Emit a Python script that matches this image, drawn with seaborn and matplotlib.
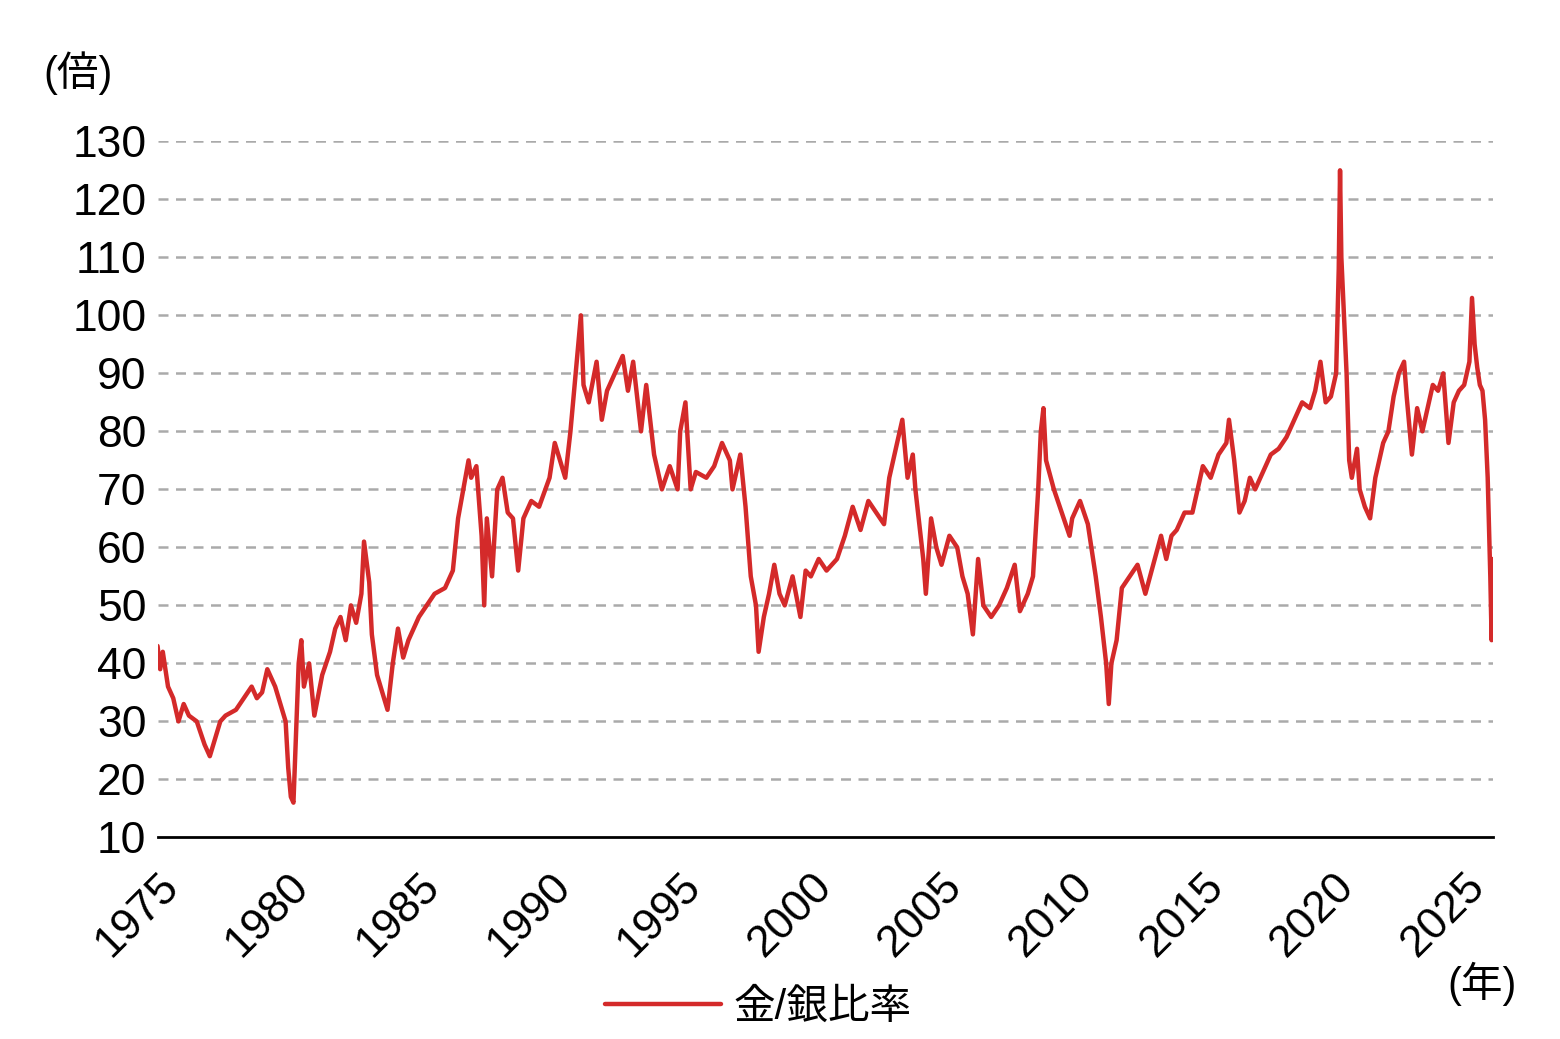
import numpy as np
import pandas as pd
import matplotlib
matplotlib.use("Agg")
import matplotlib.pyplot as plt
import seaborn as sns

# Gold/silver ratio (year, ratio)
years = [1975.0, 1975.1, 1975.2, 1975.4, 1975.6, 1975.8, 1976.0, 1976.2, 1976.5, 1976.8,
         1977.0, 1977.2, 1977.4, 1977.6, 1978.0, 1978.3, 1978.6, 1978.8, 1979.0, 1979.2,
         1979.5, 1979.7, 1979.9, 1980.0, 1980.1, 1980.2, 1980.3, 1980.4, 1980.5, 1980.6,
         1980.8, 1981.0, 1981.3, 1981.6, 1981.8, 1982.0, 1982.2, 1982.4, 1982.6, 1982.8,
         1982.9, 1983.1, 1983.2, 1983.4, 1983.6, 1983.8, 1984.0, 1984.2, 1984.4, 1984.6,
         1984.8, 1985.0, 1985.3, 1985.6, 1986.0, 1986.3, 1986.5, 1986.7, 1986.9, 1987.0,
         1987.2, 1987.4, 1987.5, 1987.6, 1987.8, 1988.0, 1988.2, 1988.4, 1988.6, 1988.8,
         1989.0, 1989.3, 1989.6, 1990.0, 1990.2, 1990.4, 1990.6, 1990.8, 1991.0, 1991.2,
         1991.3, 1991.5, 1991.8, 1992.0, 1992.2, 1992.5, 1992.8, 1993.0, 1993.2, 1993.5,
         1993.7, 1994.0, 1994.3, 1994.6, 1994.9, 1995.0, 1995.2, 1995.4, 1995.6, 1996.0,
         1996.3, 1996.6, 1996.9, 1997.0, 1997.3, 1997.5, 1997.7, 1997.9, 1998.0, 1998.2,
         1998.4, 1998.6, 1998.8, 1999.0, 1999.3, 1999.6, 1999.8, 2000.0, 2000.3, 2000.6,
         2001.0, 2001.3, 2001.6, 2001.9, 2002.2, 2002.5, 2002.8, 2003.0, 2003.3, 2003.5,
         2003.7, 2003.9, 2004.0, 2004.3, 2004.4, 2004.6, 2004.8, 2005.0, 2005.3, 2005.6,
         2005.8, 2006.0, 2006.2, 2006.4, 2006.6, 2006.9, 2007.2, 2007.5, 2007.8, 2008.0,
         2008.3, 2008.5, 2008.7, 2008.8, 2008.9, 2009.0, 2009.3, 2009.6, 2009.9, 2010.0,
         2010.3, 2010.6, 2010.9, 2011.1, 2011.3, 2011.4, 2011.5, 2011.7, 2011.9, 2012.2,
         2012.5, 2012.8, 2013.1, 2013.4, 2013.6, 2013.8, 2014.0, 2014.3, 2014.6, 2014.9,
         2015.0, 2015.3, 2015.6, 2015.9, 2016.0, 2016.2, 2016.4, 2016.6, 2016.8, 2017.0,
         2017.3, 2017.6, 2017.9, 2018.2, 2018.5, 2018.8, 2019.1, 2019.3, 2019.5, 2019.7,
         2019.9, 2020.1, 2020.2, 2020.25, 2020.3, 2020.4, 2020.5, 2020.6, 2020.7, 2020.9,
         2021.0, 2021.2, 2021.4, 2021.6, 2021.9, 2022.1, 2022.3, 2022.5, 2022.7, 2022.8,
         2023.0, 2023.2, 2023.4, 2023.6, 2023.8, 2024.0, 2024.2, 2024.4, 2024.6, 2024.8,
         2025.0, 2025.2, 2025.3, 2025.4, 2025.5, 2025.6, 2025.7, 2025.8, 2025.9, 2026.0,
         2026.05, 2026.1]
ratio = [43, 39, 42, 36, 34, 30, 33, 31, 30, 26,
         24, 27, 30, 31, 32, 34, 36, 34, 35, 39,
         36, 33, 30, 22, 17, 16, 28, 40, 44, 36,
         40, 31, 38, 42, 46, 48, 44, 50, 47, 52,
         61, 54, 45, 38, 35, 32, 40, 46, 41, 44,
         46, 48, 50, 52, 53, 56, 65, 70, 75, 72,
         74, 62, 50, 65, 55, 70, 72, 66, 65, 56,
         65, 68, 67, 72, 78, 75, 72, 80, 90, 100,
         88, 85, 92, 82, 87, 90, 93, 87, 92, 80,
         88, 76, 70, 74, 70, 80, 85, 70, 73, 72,
         74, 78, 75, 70, 76, 67, 55, 50, 42, 48,
         52, 57, 52, 50, 55, 48, 56, 55, 58, 56,
         58, 62, 67, 63, 68, 66, 64, 72, 78, 82,
         72, 76, 70, 58, 52, 65, 60, 57, 62, 60,
         55, 52, 45, 58, 50, 48, 50, 53, 57, 49,
         52, 55, 70, 80, 84, 75, 70, 66, 62, 65,
         68, 64, 55, 48, 40, 33, 40, 44, 53, 55,
         57, 52, 57, 62, 58, 62, 63, 66, 66, 72,
         74, 72, 76, 78, 82, 75, 66, 68, 72, 70,
         73, 76, 77, 79, 82, 85, 84, 87, 92, 85,
         86, 90, 108, 125, 110, 100, 90, 75, 72, 77,
         70, 67, 65, 72, 78, 80, 86, 90, 92, 86,
         76, 84, 80, 84, 88, 87, 90, 78, 85, 87,
         88, 92, 103, 95, 91, 88, 87, 82, 72, 55,
         44, 58]
x_ticks = list(range(1975, 2026, 5))
y_ticks = list(range(10, 131, 10))

sns.set_theme(style="white")
plt.rcParams['font.family'] = ['Liberation Sans', 'Noto Sans CJK JP']
plt.rcParams['text.color'] = 'black'
plt.rcParams['xtick.color'] = 'black'
plt.rcParams['ytick.color'] = 'black'

df = pd.DataFrame({"year": years, "ratio": ratio})

fig = plt.figure(figsize=(15.6, 10.39), dpi=100)
ax = fig.add_axes([0.101, 0.194, 0.856, 0.670])
sns.lineplot(data=df, x="year", y="ratio", ax=ax, color="#D42A2A", lw=3.2, label="金/銀比率")

ax.set_xlim(1975, 2026.1)
ax.set_ylim(10, 130)
ax.set_yticks(y_ticks)
ax.set_xticks(x_ticks)
ax.set_xticklabels([str(v) for v in x_ticks], rotation=45, ha="right", rotation_mode="anchor")
for y in y_ticks[1:]:
    ax.axhline(y, color="#aaaaaa", lw=1.8, ls=(0, (4, 3)), zorder=0)
for s in ["top", "right", "left"]:
    ax.spines[s].set_visible(False)
ax.spines["bottom"].set_color("black")
ax.spines["bottom"].set_linewidth(2)
ax.tick_params(axis="x", direction="out", length=10, width=2, color="black", labelsize=32, pad=10)
ax.tick_params(axis="y", length=0, labelsize=32, pad=8)
ax.set_xlabel("")
ax.set_ylabel("")

fig.text(0.028, 0.93, "(倍)", fontsize=30, ha="left", va="center")
fig.text(0.972, 0.053, "(年)", fontsize=30, ha="right", va="center")
ax.legend(loc="center", bbox_to_anchor=(0.45, -0.245), frameon=False, fontsize=30,
          handlelength=2.8, handletextpad=0.3)

fig.savefig("out.png", dpi=100)
